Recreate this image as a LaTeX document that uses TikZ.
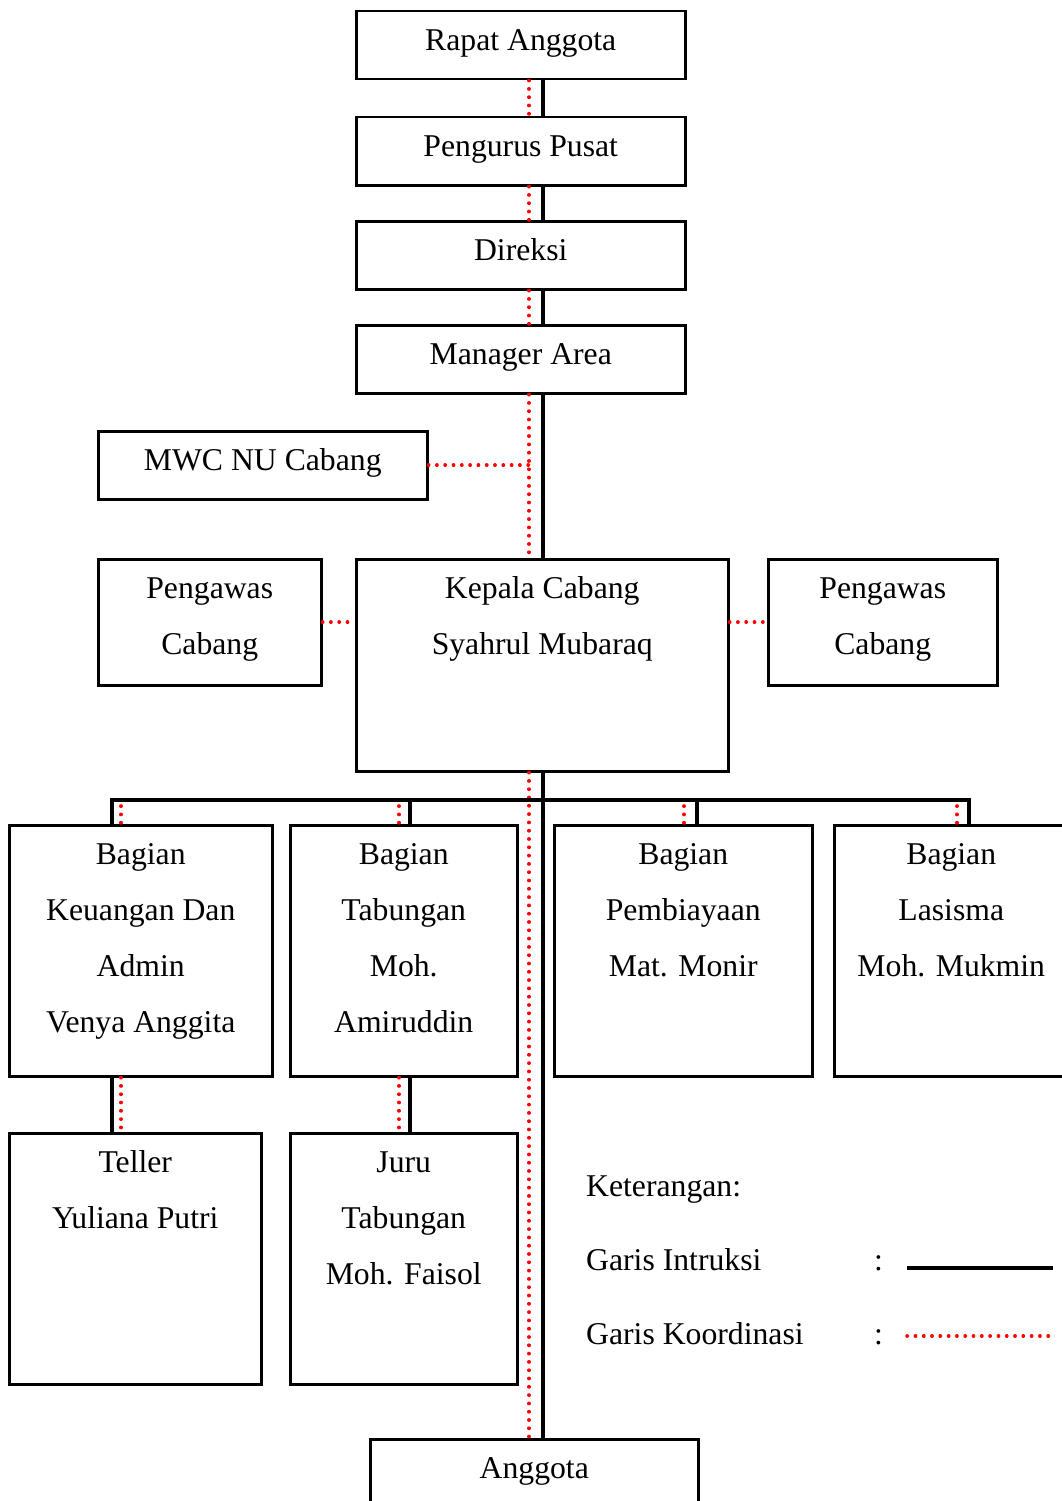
\documentclass[tikz,border=0pt]{standalone}
\usepackage{fontspec}
\setmainfont{Liberation Serif}
\begin{document}
\begin{tikzpicture}[x=1pt,y=-1pt,
  box/.style={draw,line width=2.5pt,inner sep=0pt,anchor=north west},
  txt/.style={font=\fontsize{31.7}{55.8}\selectfont,align=center,inner sep=0pt,anchor=north,yshift=-1.5pt},
  ltxt/.style={font=\fontsize{31.7}{55.8}\selectfont,inner sep=0pt,anchor=base west},
  instr/.style={line width=3.5pt,black},
  koord/.style={line width=3.6pt,red,line cap=round,dash pattern=on 0.2pt off 8.1pt}]
\useasboundingbox (0,0) rectangle (1062,1501);
\fill[white] (0,0) rectangle (1062,1501);
% boxes
\node[box,minimum width=329,minimum height=68] (ra) at (355,10) {};
\node[box,minimum width=329,minimum height=68] (pp) at (355,116) {};
\node[box,minimum width=329,minimum height=68] (dir) at (355,220) {};
\node[box,minimum width=329,minimum height=68] (ma) at (355,324) {};
\node[box,minimum width=329,minimum height=68] (mwc) at (97,430) {};
\node[box,minimum width=223,minimum height=126] (pwl) at (97,558) {};
\node[box,minimum width=372,minimum height=212] (kc) at (355,558) {};
\node[box,minimum width=229,minimum height=126] (pwr) at (767,558) {};
\node[box,minimum width=263,minimum height=251] (bk) at (8,824) {};
\node[box,minimum width=227,minimum height=251] (bt) at (289,824) {};
\node[box,minimum width=258,minimum height=251] (bp) at (553,824) {};
\node[box,minimum width=234,minimum height=251] (bl) at (833,824) {};
\node[box,minimum width=252,minimum height=251] (tel) at (8,1132) {};
\node[box,minimum width=227,minimum height=251] (jt) at (289,1132) {};
\node[box,minimum width=328,minimum height=80] (ang) at (369,1438) {};
% texts
\node[txt] (tra) at (ra.north) {\strut Rapat Anggota};
\node[txt] (tpp) at (pp.north) {\strut Pengurus Pusat};
\node[txt] (tdir) at (dir.north) {\strut Direksi};
\node[txt] (tma) at (ma.north) {\strut Manager Area};
\node[txt] (tmwc) at (mwc.north) {\strut MWC NU Cabang};
\node[txt] (tpwl) at (pwl.north) {\strut Pengawas\\Cabang};
\node[txt] (tkc) at (kc.north) {\strut Kepala Cabang\\Syahrul Mubaraq};
\node[txt] (tpwr) at (pwr.north) {\strut Pengawas\\Cabang};
\node[txt] (tbk) at (bk.north) {\strut Bagian\\Keuangan Dan\\Admin\\Venya Anggita};
\node[txt] (tbt) at (bt.north) {\strut Bagian\\Tabungan\\Moh.\\Amiruddin};
\node[txt] (tbp) at (bp.north) {\strut Bagian\\Pembiayaan\\Mat. Monir};
\node[txt] (tbl) at (bl.north) {\strut Bagian\\Lasisma\\Moh. Mukmin};
\node[txt] (ttel) at (tel.north) {\strut Teller\\Yuliana Putri};
\node[txt] (tjt) at (jt.north) {\strut Juru\\Tabungan\\Moh. Faisol};
\node[txt] (tang) at (ang.north) {\strut Anggota};
% legend
\node[ltxt] (ket) at (586,1196) {Keterangan:};
\node[ltxt] (gi) at (586,1270) {Garis Intruksi};
\node[ltxt] (gk) at (586,1344) {Garis Koordinasi};
\node[ltxt] (c1) at (874,1270) {:};
\node[ltxt] (c2) at (874,1344) {:};
\coordinate (li1) at (907,1268);
\coordinate (li2) at (1053,1268);
\coordinate (lk1) at (907,1336);
\coordinate (lk2) at (1050,1336);
\draw[instr] (li1) -- (li2);
\draw[koord] (lk1) -- (lk2);
% spine coordinates
\coordinate (sp) at (543,0);
\coordinate (rd) at (529,0);
% top chain
\foreach \a/\b in {ra/pp,pp/dir,dir/ma,ma/kc,kc/ang}{
  \draw[instr] (\a.south -| sp) -- (\b.north -| sp);
  \draw[koord] (\a.south -| rd) -- (\b.north -| rd);
}
% side coordination
\draw[koord] (mwc.east) -- (mwc.east -| rd);
\draw[koord] (pwl.east) -- (kc.west |- pwl.east);
\draw[koord] (kc.east |- pwr.west) -- (pwr.west);
% bus
\coordinate (dk) at (112,800);
\coordinate (dt) at (410,800);
\coordinate (dp) at (697,800);
\coordinate (dl) at (969,800);
\draw[instr] (dk |- bk.north) -- (dk) -- (dl) -- (dl |- bl.north);
\draw[instr] (dt) -- (dt |- bt.north);
\draw[instr] (dp) -- (dp |- bp.north);
\coordinate (rk) at (121,800);
\coordinate (rt) at (399,800);
\coordinate (rp) at (684,800);
\coordinate (rl) at (957,800);
\foreach \c/\n in {rk/bk,rt/bt,rp/bp,rl/bl}{
  \draw[koord] ([yshift=-6pt]\c) -- (\c |- \n.north);
}
% lower links
\draw[instr] (bk.south -| dk) -- (tel.north -| dk);
\draw[koord] (bk.south -| rk) -- (tel.north -| rk);
\draw[instr] (bt.south -| dt) -- (jt.north -| dt);
\draw[koord] (bt.south -| rt) -- (jt.north -| rt);
\end{tikzpicture}
\end{document}
